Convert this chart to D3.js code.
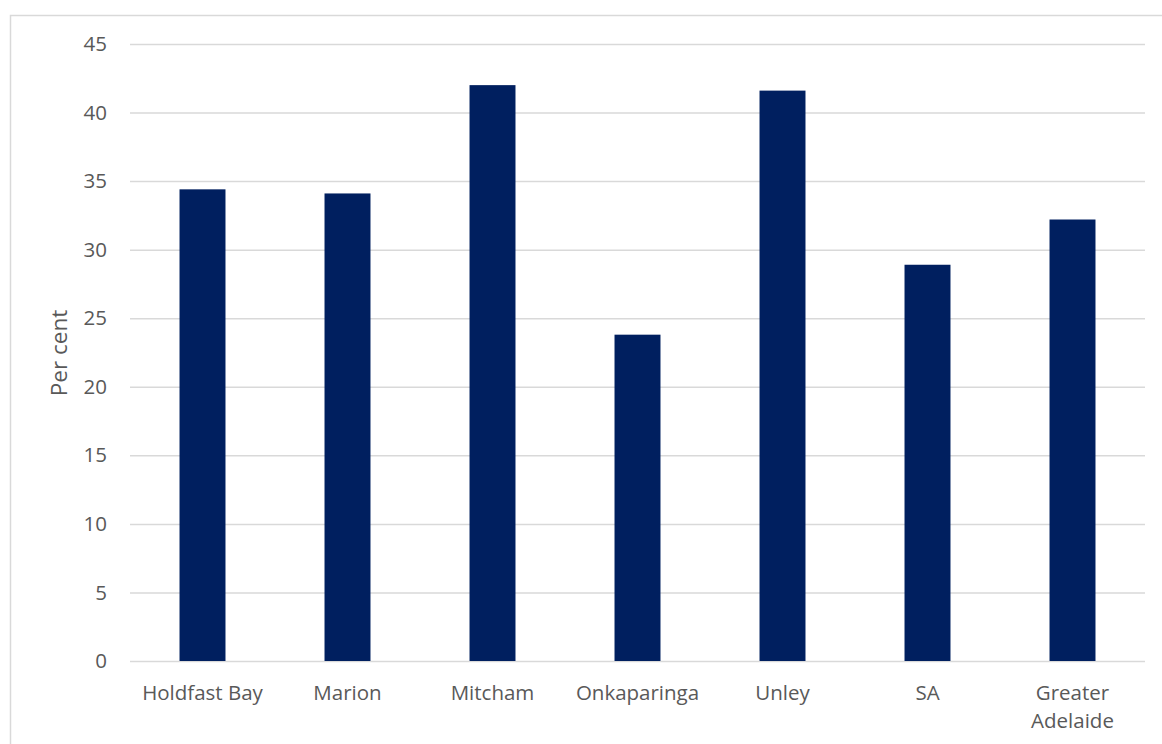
<!DOCTYPE html>
<html><head><meta charset="utf-8">
<script src="https://cdn.jsdelivr.net/npm/d3@7"></script>
<style>body{margin:0;background:#fff;}svg{display:block;}</style>
</head><body>
<svg id="c" width="1162" height="744"></svg>
<script>
const categories = ["Holdfast Bay", "Marion", "Mitcham", "Onkaparinga", "Unley", "SA", "Greater Adelaide"];
const values = [34.4, 34.1, 42.0, 23.8, 41.6, 28.9, 32.2];
const yTicks = [0, 5, 10, 15, 20, 25, 30, 35, 40, 45];

(function() {
const svg = d3.select("#c");
const font = "'Open Sans', sans-serif";
const textColor = "#595959";
const fs = 20.5;

// chart border
svg.append("rect").attr("x", 10.5).attr("y", 15.5).attr("width", 1170).attr("height", 760)
  .attr("fill", "none").attr("stroke", "#d9d9d9").attr("stroke-width", 1.5);

const pL = 130, pR = 1145, pT = 44, pB = 661;
const x = d3.scaleBand().domain(categories).range([pL, pR]).paddingInner(0.683).paddingOuter(0.3415);
const y = d3.scaleLinear().domain([0, 45]).range([pB, pT]);

// gridlines
svg.append("g").selectAll("line").data(yTicks).join("line")
  .attr("x1", pL).attr("x2", pR)
  .attr("y1", d => y(d) + 0.5).attr("y2", d => y(d) + 0.5)
  .attr("stroke", "#d9d9d9").attr("stroke-width", 1.5);

// y axis labels
const yAxis = d3.axisLeft(y).tickValues(yTicks).tickSize(0).tickPadding(0);
const gy = svg.append("g").attr("transform", `translate(107,0)`).call(yAxis);
gy.select(".domain").remove();
gy.selectAll("text").attr("font-family", font).attr("font-size", fs).attr("fill", textColor);

// bars
svg.append("g").selectAll("rect").data(values).join("rect")
  .attr("x", (d, i) => x(categories[i]))
  .attr("width", x.bandwidth())
  .attr("y", d => y(d))
  .attr("height", d => y(0) - y(d))
  .attr("fill", "#001f5f");

// x labels
const xAxis = d3.axisBottom(x).tickSize(0).tickPadding(0);
const gx = svg.append("g").attr("transform", `translate(0,${pB})`).call(xAxis);
gx.select(".domain").remove();
gx.selectAll("text").each(function(d) {
  const t = d3.select(this);
  t.text(null).attr("y", 0).attr("dy", null)
    .attr("font-family", font).attr("font-size", fs).attr("fill", textColor);
  const lines = d === "Greater Adelaide" ? ["Greater", "Adelaide"] : [d];
  lines.forEach((ln, k) => {
    t.append("tspan").attr("x", 0).attr("y", 39 + k * 28).text(ln);
  });
});

// y axis title
svg.append("text").attr("transform", "translate(67,353) rotate(-90)")
  .attr("text-anchor", "middle").attr("font-family", font).attr("font-size", 22.5)
  .attr("fill", textColor).text("Per cent");
})();
</script>
</body></html>
